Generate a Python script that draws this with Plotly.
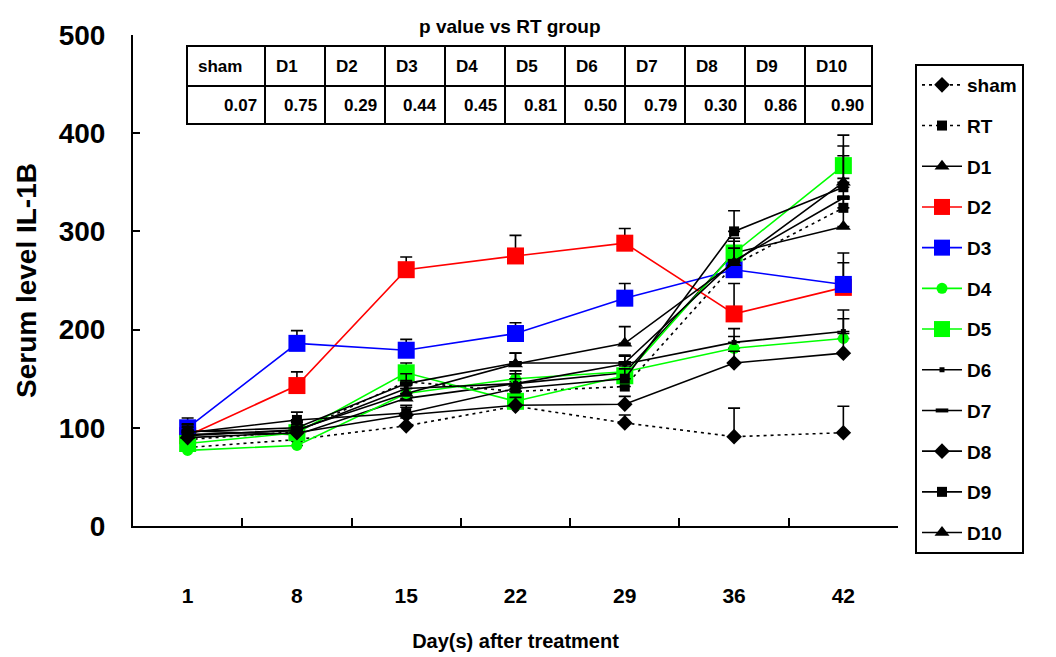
import plotly.graph_objects as go

# ---------------- data ----------------
days = ["1", "8", "15", "22", "29", "36", "42"]

sham = [80, 88, 102, 122, 105, 91, 95]
rt   = [88, 96, 147, 137, 142, 266, 324]
d1   = [97, 93, 130, 145, 156, 278, 305]
d2   = [92, 143, 261, 275, 288, 216, 243]
d3   = [100, 186, 179, 196, 232, 261, 246]
d4   = [77, 82, 135, 150, 157, 181, 191]
d5   = [84, 95, 156, 127, 153, 278, 367]
d6   = [93, 97, 140, 145, 165, 187, 198]
d7   = [96, 100, 145, 166, 166, 270, 334]
d8   = [90, 95, 113, 123, 124, 166, 176]
d9   = [95, 108, 115, 140, 150, 300, 345]
d10  = [92, 98, 135, 165, 186, 268, 350]

sham_err = [8, 6, 8, 8, 8, 29, 27]
rt_err   = [10, 12, 10, 10, 10, 14, 12]
d1_err   = [8, 8, 10, 10, 10, 15, 30]
d2_err   = [8, 14, 13, 21, 15, 31, 25]
d3_err   = [10, 13, 11, 11, 15, 12, 32]
d4_err   = [6, 6, 8, 8, 8, 12, 20]
d5_err   = [8, 8, 10, 10, 10, 15, 31]
d6_err   = [8, 8, 8, 10, 8, 14, 22]
d7_err   = [8, 8, 10, 10, 8, 20, 20]
d8_err   = [8, 8, 8, 8, 8, 12, 20]
d9_err   = [8, 8, 8, 10, 10, 21, 32]
d10_err  = [8, 8, 10, 11, 17, 15, 37]

table_groups = ["sham", "D1", "D2", "D3", "D4", "D5", "D6", "D7", "D8", "D9", "D10"]
p_values = ["0.07", "0.75", "0.29", "0.44", "0.45", "0.81", "0.50", "0.79", "0.30", "0.86", "0.90"]

# ---------------- styles ----------------
FONT = "Liberation Sans, Arial, sans-serif"
series = [
    ("sham", sham, sham_err, "black", "3px,4px", "diamond", 12),
    ("RT", rt, rt_err, "black", "3px,4px", "square", 10),
    ("D1", d1, d1_err, "black", "solid", "triangle-up", 13),
    ("D2", d2, d2_err, "#FF0000", "solid", "square", 17),
    ("D3", d3, d3_err, "#0000FF", "solid", "square", 17),
    ("D4", d4, d4_err, "#00FF00", "solid", "circle", 11),
    ("D5", d5, d5_err, "#00FF00", "solid", "square", 17),
    ("D6", d6, d6_err, "black", "solid", "square", 5),
    ("D7", d7, d7_err, "black", "solid", "line-ew", 9),
    ("D8", d8, d8_err, "black", "solid", "diamond", 12),
    ("D9", d9, d9_err, "black", "solid", "square", 10),
    ("D10", d10, d10_err, "black", "solid", "triangle-up", 13),
]

fig = go.Figure()
for i, (name, vals, err, col, dash, sym, size) in enumerate(series):
    marker = dict(symbol=sym, size=size, color=col)
    if sym == "line-ew":
        marker["line"] = dict(color=col, width=4)
    else:
        marker["line"] = dict(width=0)
    fig.add_trace(go.Scatter(
        x=days, y=vals, name=name, mode="lines+markers",
        legendgroup=f"g{i}",
        line=dict(color=col, width=1.6, dash=dash),
        marker=marker,
        error_y=dict(type="data", array=err, arrayminus=[0] * len(err), symmetric=False,
                     color="black", thickness=1.6, width=6),
    ))

# ---------------- p-value table ----------------
L, R, T, B = 133, 898, 35, 526
def px(x):
    return (x - L) / (R - L)
def py(y):
    return (B - y) / (B - T)

col_edges = [187, 265, 325, 385, 445, 505, 565, 625, 685, 745, 805, 872]
row_edges = [46, 86, 124]
shapes = []
shapes.append(dict(type="rect", xref="paper", yref="paper",
                   x0=px(col_edges[0]), x1=px(col_edges[-1]),
                   y0=py(row_edges[0]), y1=py(row_edges[-1]),
                   line=dict(color="black", width=2)))
shapes.append(dict(type="line", xref="paper", yref="paper",
                   x0=px(col_edges[0]), x1=px(col_edges[-1]),
                   y0=py(row_edges[1]), y1=py(row_edges[1]),
                   line=dict(color="black", width=2)))
for xe in col_edges[1:-1]:
    shapes.append(dict(type="line", xref="paper", yref="paper",
                       x0=px(xe), x1=px(xe), y0=py(row_edges[0]), y1=py(row_edges[-1]),
                       line=dict(color="black", width=2)))

annotations = []
for j, (g, p) in enumerate(zip(table_groups, p_values)):
    annotations.append(dict(x=px(col_edges[j] + 9), y=py((row_edges[0] + row_edges[1]) / 2),
                            xref="paper", yref="paper", text=g, showarrow=False,
                            xanchor="left", yanchor="middle",
                            font=dict(family=FONT, size=17, color="black", weight="bold")))
    annotations.append(dict(x=px(col_edges[j + 1] - 6), y=py((row_edges[1] + row_edges[2]) / 2),
                            xref="paper", yref="paper", text=p, showarrow=False,
                            xanchor="right", yanchor="middle",
                            font=dict(family=FONT, size=17, color="black", weight="bold")))
annotations.append(dict(x=px(510), y=py(26), xref="paper", yref="paper",
                        text="p value vs RT group", showarrow=False,
                        xanchor="center", yanchor="middle",
                        font=dict(family=FONT, size=19, color="black", weight="bold")))

fig.update_layout(
    width=1056, height=657,
    margin=dict(l=L, r=1056 - R, t=T, b=657 - B, autoexpand=False),
    paper_bgcolor="white", plot_bgcolor="white",
    font=dict(family=FONT, color="black"),
    shapes=shapes, annotations=annotations,
    legend=dict(x=px(915), y=py(64), xanchor="left", yanchor="top",
                bordercolor="black", borderwidth=2, bgcolor="white",
                font=dict(family=FONT, size=19, color="black", weight="bold"),
                tracegroupgap=13, itemwidth=40),
    xaxis=dict(type="category", range=[-0.5, 6.5], showline=True, linecolor="black",
               linewidth=2, ticks="inside", tickson="boundaries", ticklen=8,
               tickcolor="black", tickwidth=1.5, showgrid=False, zeroline=False,
               ticklabelstandoff=50,
               tickfont=dict(family=FONT, size=21, color="black", weight="bold"),
               title=dict(text="Day(s) after treatment", standoff=28,
                          font=dict(family=FONT, size=20, color="black", weight="bold"))),
    yaxis=dict(range=[0, 500], dtick=100, showline=True, linecolor="black", linewidth=2,
               ticks="inside", ticklen=7, tickcolor="black", tickwidth=1.5,
               showgrid=False, zeroline=False, ticklabelstandoff=20,
               tickfont=dict(family=FONT, size=28, color="black", weight="bold"),
               title=dict(text="Serum level IL-1B", standoff=14,
                          font=dict(family=FONT, size=28, color="black", weight="bold"))),
)

fig.write_html("out.html")
